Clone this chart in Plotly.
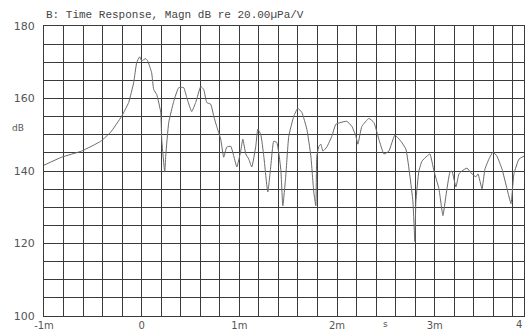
import plotly.graph_objects as go

# Time (ms) and magnitude (dB)
time_ms = [-1.0, -0.82, -0.615, -0.42, -0.318, -0.205, -0.133, -0.082, -0.051, -0.02, 0.0, 0.041,
           0.061, 0.102, 0.123, 0.154, 0.195, 0.205, 0.236, 0.246, 0.277, 0.328, 0.379, 0.43,
           0.461, 0.512, 0.553, 0.605, 0.635, 0.666, 0.707, 0.738, 0.768, 0.809, 0.84, 0.871,
           0.912, 0.943, 0.974, 1.014, 1.035, 1.066, 1.096, 1.127, 1.168, 1.189, 1.219, 1.25,
           1.291, 1.322, 1.352, 1.383, 1.424, 1.445, 1.475, 1.506, 1.557, 1.598, 1.639, 1.691,
           1.732, 1.762, 1.783, 1.793, 1.814, 1.834, 1.855, 1.895, 1.947, 1.988, 2.039, 2.1,
           2.152, 2.193, 2.213, 2.254, 2.326, 2.377, 2.428, 2.48, 2.531, 2.592, 2.654, 2.705,
           2.746, 2.777, 2.797, 2.807, 2.838, 2.869, 2.92, 2.951, 2.992, 3.043, 3.084, 3.115,
           3.156, 3.176, 3.217, 3.248, 3.279, 3.33, 3.381, 3.422, 3.443, 3.484, 3.514, 3.555,
           3.596, 3.637, 3.689, 3.74, 3.781, 3.811, 3.863, 3.914]
magn_db = [141.6, 143.8, 145.5, 148.2, 150.7, 155.1, 158.9, 164.4, 169.9, 171.5, 170.4, 171.0,
           170.4, 167.1, 162.5, 161.1, 156.2, 148.8, 139.7, 144.1, 153.4, 159.2, 163.0, 163.0,
           160.3, 156.4, 158.9, 163.3, 162.5, 158.9, 158.4, 155.1, 152.3, 148.8, 143.8, 146.6,
           146.8, 144.1, 141.1, 145.5, 148.8, 144.7, 143.3, 141.1, 146.8, 151.5, 150.1, 144.1,
           134.2, 141.4, 148.2, 147.9, 140.5, 130.4, 138.6, 149.6, 155.1, 157.3, 156.2, 151.5,
           144.1, 134.2, 130.4, 144.1, 146.8, 147.4, 145.5, 146.6, 149.6, 152.9, 153.4, 153.7,
           152.3, 149.6, 147.4, 152.3, 154.5, 153.4, 148.8, 144.7, 145.5, 149.9, 148.2, 146.0,
           138.6, 131.5, 120.5, 131.5, 140.0, 142.7, 144.1, 144.7, 140.0, 135.1, 127.7, 133.2,
           139.7, 140.0, 135.6, 139.2, 140.0, 140.8, 139.2, 138.4, 139.2, 135.1, 140.5, 143.3,
           145.2, 144.1, 140.5, 135.1, 131.0, 139.2, 143.3, 144.1]

x_tickvals = [-1, 0, 1, 2, 3]
x_ticktext = ["-1m", "0", "1m", "2m", "3m"]
y_tickvals = [100, 120, 140, 160, 180]

title_text = "B: Time Response, Magn dB re 20.00\u00b5Pa/V"
grid_col = "#3a3a3a"
text_col = "#555555"

fig = go.Figure()
fig.add_trace(go.Scatter(x=time_ms, y=magn_db, mode="lines",
                         line=dict(color="#6a6a6a", width=1, shape="spline", smoothing=0.4),
                         hoverinfo="skip"))

fig.update_layout(
    width=525, height=331,
    margin=dict(l=44, r=0, t=26, b=13),
    paper_bgcolor="white", plot_bgcolor="white",
    showlegend=False,
    font=dict(family="DejaVu Sans", size=10, color=text_col),
)
fig.update_xaxes(
    range=[-1.0, 3.914], tickvals=x_tickvals, ticktext=x_ticktext,
    showgrid=True, gridcolor=grid_col, gridwidth=1,
    minor=dict(dtick=0.2, tick0=-1, showgrid=True, gridcolor=grid_col, gridwidth=1),
    showline=True, linecolor=grid_col, linewidth=1, mirror=True,
    ticks="", ticklabelstandoff=0, zeroline=False,
    tickfont=dict(family="DejaVu Sans", size=10, color=text_col),
)
fig.update_yaxes(
    range=[100, 180], tickvals=y_tickvals,
    showgrid=True, gridcolor=grid_col, gridwidth=1,
    minor=dict(dtick=5, tick0=100, showgrid=True, gridcolor=grid_col, gridwidth=1),
    showline=True, linecolor=grid_col, linewidth=1, mirror=True,
    ticks="", ticklabelstandoff=6, zeroline=False,
    tickfont=dict(family="DejaVu Sans", size=11, color=text_col),
)

fig.add_annotation(text=title_text, xref="paper", yref="paper", x=0, y=1,
                   xanchor="left", yanchor="bottom", yshift=3, showarrow=False,
                   font=dict(family="Liberation Mono", size=11, color="#444444"))
fig.add_annotation(text="dB", xref="paper", yref="y", x=0, y=152, xshift=-26,
                   xanchor="center", yanchor="middle", showarrow=False,
                   font=dict(family="DejaVu Sans", size=9, color=text_col))
fig.add_annotation(text="s", xref="x", yref="paper", x=2.5, y=0,
                   xanchor="center", yanchor="top", yshift=-1, showarrow=False,
                   font=dict(family="DejaVu Sans", size=9, color=text_col))
fig.add_annotation(text="4", xref="paper", yref="paper", x=1, y=0,
                   xanchor="right", yanchor="top", yshift=-1, showarrow=False,
                   font=dict(family="DejaVu Sans", size=10, color=text_col))

fig.write_html("out.html")
